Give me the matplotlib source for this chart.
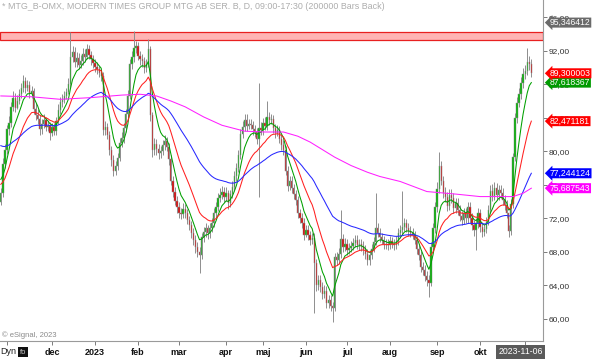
import numpy as np
import pandas as pd
import matplotlib
matplotlib.use('Agg')
import matplotlib.pyplot as plt
import matplotlib.transforms as mtransforms
from matplotlib.ticker import FuncFormatter

plt.rcParams['font.family'] = ['Liberation Sans', 'DejaVu Sans']

# handelsdagar (Stockholm), okt 2022 - nov 2023
holidays = ['2022-12-26', '2023-01-06', '2023-04-07', '2023-04-10',
            '2023-05-01', '2023-05-18', '2023-06-06', '2023-06-23']
dates = pd.bdate_range('2022-10-27', '2023-11-06')
dates = dates[~dates.isin(pd.to_datetime(holidays))]

first_open = 74.0
closes = [
    75.0, 78.5, 80.2, 82.6, 83.4, 85.3, 86.4, 85.2, 86.0, 86.8,
    87.5, 88.4, 87.6, 87.9, 86.9, 87.2, 85.0, 84.3, 83.8, 82.6,
    83.2, 83.7, 82.9, 83.0, 82.2, 82.9, 82.4, 83.6, 84.9, 85.9,
    86.1, 86.6, 87.1, 88.0, 91.2, 91.8, 90.6, 91.1, 90.3, 90.8,
    91.6, 91.3, 92.2, 91.5, 91.0, 90.5, 90.1, 89.8, 89.3, 89.0,
    82.5, 82.9, 82.0, 80.1, 79.0, 77.7, 78.3, 79.2, 81.0, 81.6,
    82.8, 84.5, 86.6, 90.4, 91.2, 92.3, 92.5, 91.4, 91.0, 90.8,
    89.9, 90.4, 92.2, 84.3, 80.1, 80.9, 80.3, 79.8, 80.0, 80.7,
    81.2, 80.5, 79.1, 76.5, 75.2, 74.1, 73.3, 72.6, 72.5, 73.1,
    72.7, 71.8, 71.2, 70.2, 69.4, 68.6, 68.0, 67.6, 69.8, 70.4,
    70.8, 70.2, 70.9, 71.5, 72.6, 73.4, 74.4, 74.8, 75.2, 74.6,
    75.0, 73.8, 74.9, 75.8, 77.0, 78.0, 79.5, 82.1, 82.9, 83.7,
    83.0, 83.3, 83.1, 82.6, 82.3, 81.5, 82.8, 82.5, 83.4, 83.0,
    84.1, 83.7, 83.8, 82.8, 82.2, 82.5, 81.5, 80.8, 80.1, 77.7,
    75.9, 76.4, 75.6, 74.9, 74.2, 72.6, 72.0, 71.5, 70.0, 70.6,
    70.0, 69.4, 69.7, 66.7, 64.0, 64.6, 63.8, 63.0, 63.4, 61.9,
    62.3, 61.5, 61.3, 67.4, 67.0, 67.8, 69.6, 68.6, 69.0, 68.2,
    68.5, 68.7, 69.1, 69.4, 68.8, 69.0, 68.7, 68.2, 67.8, 67.0,
    67.6, 68.4, 69.2, 70.9, 70.3, 69.8, 69.4, 68.9, 69.0, 68.8,
    69.3, 69.0, 68.8, 69.3, 70.2, 70.6, 71.0, 71.4, 70.9, 70.5,
    70.3, 70.0, 69.4, 68.3, 67.6, 66.2, 65.8, 65.1, 64.6, 64.3,
    68.6, 70.8, 73.3, 75.5, 78.3, 76.5, 75.0, 74.5, 73.5, 74.8,
    74.4, 73.2, 73.8, 73.0, 72.3, 71.8, 72.6, 72.0, 73.3, 72.1,
    71.2, 70.6, 71.4, 72.6, 71.0, 70.4, 70.7, 71.6, 73.0, 75.3,
    74.7, 75.6, 74.8, 75.4, 75.0, 74.2, 73.6, 72.6, 70.5, 73.7,
    79.3, 84.0, 85.8, 86.8, 88.2, 89.2, 89.6, 90.6, 90.4, 89.3,
]
highs = [
    75.6, 79.2, 80.9, 83.1, 84.2, 85.9, 87.2, 86.9, 86.7, 87.4,
    88.2, 89.1, 88.9, 88.5, 88.4, 87.8, 87.6, 85.7, 85.0, 84.3,
    83.8, 84.4, 84.1, 83.6, 83.5, 83.4, 83.4, 84.1, 85.6, 86.5,
    86.8, 87.2, 87.6, 88.7, 94.2, 92.6, 92.4, 91.8, 91.7, 91.5,
    92.3, 92.2, 92.8, 92.7, 91.9, 91.5, 91.0, 90.6, 90.2, 89.7,
    89.4, 83.6, 83.4, 82.4, 80.6, 79.6, 78.9, 79.8, 81.6, 82.3,
    83.4, 85.1, 87.3, 91.0, 92.0, 94.3, 93.2, 93.0, 92.0, 91.6,
    91.3, 91.0, 93.4, 92.6, 84.7, 81.6, 81.5, 80.9, 80.6, 81.3,
    81.9, 81.7, 81.0, 79.6, 77.0, 75.8, 74.7, 73.9, 73.2, 73.8,
    73.7, 73.1, 72.3, 71.7, 70.8, 70.0, 69.2, 68.6, 70.3, 71.0,
    71.5, 71.2, 71.5, 72.1, 73.2, 74.0, 75.0, 75.6, 75.9, 75.8,
    75.7, 75.4, 75.4, 76.4, 77.6, 78.6, 80.1, 82.7, 83.6, 84.4,
    84.5, 83.9, 83.8, 83.6, 83.1, 82.8, 88.1, 83.5, 84.0, 84.1,
    86.0, 84.7, 84.4, 84.3, 83.3, 83.1, 83.0, 82.0, 81.3, 80.6,
    78.2, 77.0, 77.0, 76.1, 75.4, 74.7, 73.1, 72.6, 72.0, 71.2,
    71.2, 70.5, 70.3, 70.2, 67.2, 65.2, 65.2, 64.4, 64.0, 63.9,
    62.9, 62.9, 62.0, 67.9, 68.0, 68.5, 73.0, 70.1, 69.7, 69.6,
    69.1, 69.3, 69.7, 70.0, 70.0, 69.6, 69.6, 69.3, 68.8, 68.4,
    68.2, 69.0, 69.8, 75.0, 71.5, 70.9, 70.3, 69.9, 69.6, 69.5,
    69.9, 69.8, 69.5, 69.9, 70.8, 71.2, 75.3, 72.0, 71.9, 71.4,
    71.1, 70.9, 70.5, 69.9, 68.8, 68.1, 66.8, 66.4, 65.7, 65.2,
    69.2, 71.5, 74.0, 76.3, 79.9, 78.9, 77.1, 75.7, 75.1, 75.5,
    75.5, 75.0, 74.4, 74.4, 73.6, 72.9, 73.2, 73.2, 74.0, 73.9,
    72.7, 71.8, 72.0, 73.2, 73.1, 71.6, 71.3, 72.2, 73.6, 76.0,
    76.1, 76.3, 76.2, 76.0, 76.0, 75.6, 74.8, 74.2, 71.2, 74.3,
    79.8, 84.6, 86.5, 87.6, 88.9, 89.9, 90.3, 92.3, 91.4, 91.0,
]
lows = [
    73.6, 74.6, 78.0, 79.7, 82.0, 82.9, 84.8, 84.7, 85.0, 85.6,
    86.3, 87.1, 87.0, 87.2, 86.3, 86.4, 84.5, 83.7, 83.2, 82.0,
    82.1, 82.8, 82.4, 82.4, 81.3, 81.8, 81.9, 82.0, 83.2, 84.5,
    85.3, 85.7, 86.2, 86.8, 87.6, 90.6, 90.0, 90.0, 89.8, 89.9,
    90.3, 90.7, 91.0, 91.0, 90.3, 89.9, 89.5, 89.2, 88.8, 88.4,
    82.0, 81.9, 81.5, 79.6, 78.3, 77.1, 77.2, 77.8, 78.9, 80.5,
    81.0, 82.3, 84.0, 86.2, 89.8, 90.7, 91.7, 90.9, 90.3, 90.1,
    89.3, 89.5, 90.0, 83.6, 79.3, 79.6, 79.6, 79.1, 79.2, 79.6,
    80.1, 80.0, 78.4, 76.0, 74.6, 73.6, 72.7, 72.0, 71.9, 72.0,
    72.1, 71.3, 70.6, 69.7, 68.8, 67.9, 67.4, 65.5, 67.1, 69.2,
    69.8, 69.6, 69.7, 70.4, 71.0, 72.1, 72.9, 74.0, 74.3, 74.0,
    74.1, 73.1, 73.3, 74.4, 75.4, 76.5, 77.5, 79.1, 81.6, 82.4,
    82.4, 82.6, 82.6, 82.0, 81.7, 80.9, 74.5, 81.9, 82.0, 82.5,
    82.5, 83.1, 83.2, 82.2, 81.6, 81.8, 81.0, 80.2, 79.5, 77.2,
    75.3, 75.4, 75.0, 74.3, 73.6, 72.0, 71.4, 70.9, 69.4, 69.8,
    69.4, 68.8, 68.9, 60.7, 63.4, 63.5, 63.2, 62.4, 62.5, 61.3,
    61.3, 60.9, 59.6, 61.0, 66.4, 66.6, 67.3, 68.0, 68.1, 67.6,
    67.7, 68.0, 68.2, 68.6, 68.3, 68.2, 68.1, 67.6, 67.2, 66.5,
    66.5, 67.1, 68.0, 68.8, 69.8, 69.2, 68.9, 68.4, 68.4, 68.2,
    68.3, 68.5, 68.2, 68.3, 68.8, 69.7, 70.1, 70.5, 70.4, 69.9,
    69.8, 69.5, 68.9, 67.8, 67.0, 65.6, 65.2, 64.5, 63.9, 62.6,
    63.9, 68.1, 70.3, 72.8, 75.0, 76.0, 74.4, 73.9, 72.9, 73.0,
    73.8, 72.6, 72.7, 72.4, 71.7, 71.2, 71.3, 71.4, 71.5, 71.5,
    70.6, 69.9, 68.2, 70.9, 70.4, 69.8, 69.9, 70.2, 71.2, 72.6,
    74.1, 74.2, 74.2, 74.2, 74.4, 73.6, 73.0, 72.0, 69.8, 70.0,
    73.2, 78.8, 83.4, 85.3, 86.2, 87.6, 88.6, 89.1, 89.7, 88.8,
]

# glidande medelvärden (EMA): längd, startvärde vid vänsterkanten, färg
ema_spans = [7, 17, 50]
ema_seeds = [77.2, 76.2, 80.9]
ema_colors = ['#00a000', '#ff2020', '#2828ff']

# långa medelvärdet (magenta): stapelindex och värde
ma_long_bar = [0, 15, 29, 44, 59, 68, 76, 83, 90, 99, 108, 119, 129, 138,
               145, 151, 157, 163, 171, 179, 185, 195, 208, 222, 234, 250, 255, 259]
ma_long_val = [86.6, 86.5, 86.2, 86.4, 86.7, 86.8, 86.6, 86.0, 85.3, 84.1, 83.1, 82.4, 82.3, 82.3,
               81.8, 81.1, 80.2, 79.3, 78.3, 77.5, 77.0, 76.4, 75.2, 74.9, 74.6, 74.6, 75.0, 75.6]
ma_long_color = '#ff20ff'

# motståndsband
band_low, band_high = 93.26, 94.25

# prisetiketter till höger (högsta, ema7, ema17, ema50, långt MA, senaste kurs)
tag_texts = ['95,346412', '87,618367', '82,471181', '77,244124', '75,687543', '89,300003']
tag_colors = ['#6a6a6a', '#009a00', '#ff0000', '#0000ff', '#ff00ff', '#ff0000']

month_abbr = ['jan', 'feb', 'mar', 'apr', 'maj', 'jun', 'jul', 'aug', 'sep', 'okt', 'nov', 'dec']

closes = np.array(closes)
opens = np.concatenate([[first_open], closes[:-1]])
highs = np.array(highs)
lows = np.array(lows)
x = np.arange(len(closes))

fig = plt.figure(figsize=(6.0, 3.59), dpi=100)
ax = fig.add_axes([0.0, 18 / 359, 543 / 600, 341 / 359])

ax.axhspan(band_low, band_high, facecolor='#ffb4b4', edgecolor='#e82020', lw=0.9, zorder=1)

# candles
up = closes >= opens
body_lo = np.minimum(opens, closes)
body_h = np.maximum(np.abs(closes - opens), 0.08)
ax.vlines(x, lows, highs, color='#8e8e8e', lw=0.7, zorder=2)
ax.bar(x, body_h, bottom=body_lo, width=0.62, color=np.where(up, '#00b400', '#dd0000'),
       edgecolor='#8e8e8e', linewidth=0.35, zorder=3)

# EMA-linjer
ema_last = []
for span, seed, col in zip(ema_spans, ema_seeds, ema_colors):
    ema = pd.Series(np.concatenate([[seed], closes])).ewm(span=span, adjust=False).mean().values[1:]
    ax.plot(x, ema, color=col, lw=0.75, zorder=4)
    ema_last.append(ema[-1])
ax.plot(ma_long_bar, ma_long_val, color=ma_long_color, lw=0.75, zorder=4)

ax.set_xlim(-0.4, 264.7)
ax.set_ylim(57.38, 98.04)

# y-axel till höger
ax.yaxis.tick_right()
ax.set_yticks(np.arange(60, 97, 4))
ax.yaxis.set_major_formatter(FuncFormatter(lambda v, p: f"{v:.2f}".replace('.', ',')))
ax.tick_params(axis='y', direction='out', length=3, width=0.6, color='#666666',
               labelsize=6, labelcolor='#333333', pad=1)

# x-axel: första handelsdag varje månad
month_idx = [i for i in range(len(dates)) if i == 0 or dates[i].month != dates[i - 1].month][1:]
month_lbl = []
for i in month_idx:
    m = dates[i].month
    month_lbl.append(str(dates[i].year) if m == 1 else month_abbr[m - 1])
month_lbl[0] = ''
month_lbl[-1] = ''
ax.set_xticks(month_idx)
ax.set_xticklabels(month_lbl, fontweight='bold')
ax.tick_params(axis='x', direction='out', length=3, width=0.6, color='#666666',
               labelsize=6.5, labelcolor='#111111', pad=2)

for s in ['left', 'top']:
    ax.spines[s].set_visible(False)
for s in ['right', 'bottom']:
    ax.spines[s].set_color('#9a9a9a')
    ax.spines[s].set_linewidth(0.8)

# prisetiketter (senaste kurs ritas sist, överst)
tag_values = [95.346412] + ema_last + [ma_long_val[-1], closes[-1]]
trans = mtransforms.blended_transform_factory(ax.transAxes, ax.transData)
for txt, val, col in zip(tag_texts, tag_values, tag_colors):
    ax.text(1.0 + 7 / 543, val, txt, transform=trans, ha='left', va='center', fontsize=6.2,
            color='white', clip_on=False, zorder=10,
            bbox=dict(boxstyle='larrow,pad=0.06', fc=col, ec='none'))

fig.text(2 / 600, 1 - 2 / 359, '* MTG_B-OMX, MODERN TIMES GROUP MTG AB SER. B, D, 09:00-17:30 (200000 Bars Back)',
         ha='left', va='top', fontsize=6.4, color='#adadad')
fig.text(2 / 600, 1 - 335 / 359, '\u00a9 eSignal, 2023', ha='left', va='center', fontsize=5.5, color='#8a8a8a')
fig.text(0.0, 1 - 352 / 359, 'Dyn', ha='left', va='center', fontsize=6.5, color='#222222')
fig.text(20 / 600, 1 - 352 / 359, 'fo', ha='left', va='center', fontsize=5.5, color='#cccccc',
         bbox=dict(boxstyle='square,pad=0.25', fc='#111111', ec='none'))
fig.text(543 / 600, 1 - 352 / 359, '2023-11-06', ha='right', va='center', fontsize=6.3, color='white',
         bbox=dict(boxstyle='square,pad=0.25', fc='#5a5a5a', ec='none'))

fig.savefig('out.png', dpi=100)
